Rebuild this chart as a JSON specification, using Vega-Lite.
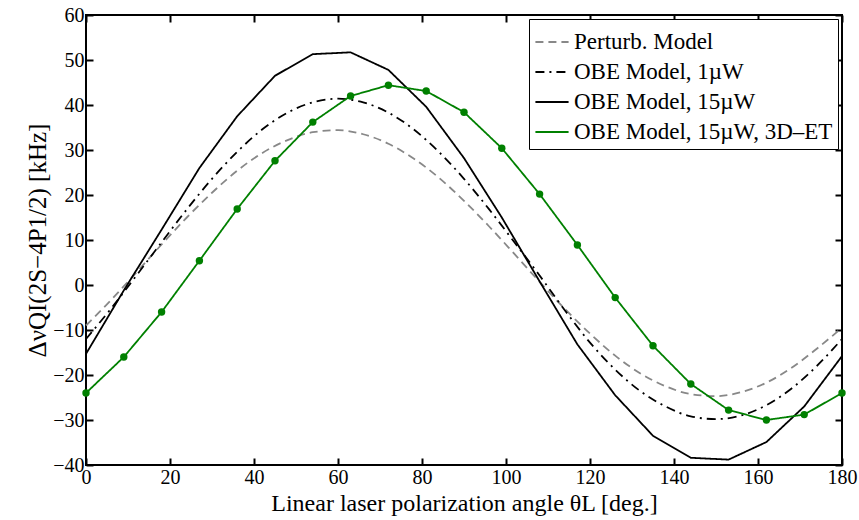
{
  "$schema": "https://vega.github.io/schema/vega-lite/v6.json",
  "width": 756,
  "height": 450,
  "autosize": {"type": "none"},
  "padding": {"left": 86, "top": 15, "right": 17, "bottom": 55},
  "background": "white",
  "config": {
    "font": "Liberation Serif",
    "view": {"stroke": "black", "strokeWidth": 2},
    "axis": {
      "labelFont": "Liberation Serif",
      "titleFont": "Liberation Serif",
      "labelFontSize": 20,
      "titleFontSize": 24,
      "titleFontWeight": "normal",
      "labelColor": "black",
      "titleColor": "black",
      "grid": false,
      "domain": false,
      "tickColor": "black",
      "tickWidth": 2,
      "tickSize": 7,
      "offset": -7
    },
    "legend": {
      "labelFont": "Liberation Serif",
      "labelFontSize": 23,
      "labelColor": "black",
      "labelLimit": 400
    }
  },
  "datasets": {
    "curves": [
      {"series": "Perturb. Model", "theta": 0, "v": -9.0},
      {"series": "Perturb. Model", "theta": 6, "v": -3.3},
      {"series": "Perturb. Model", "theta": 12, "v": 2.8},
      {"series": "Perturb. Model", "theta": 18, "v": 9.0},
      {"series": "Perturb. Model", "theta": 24, "v": 15.0},
      {"series": "Perturb. Model", "theta": 30, "v": 20.5},
      {"series": "Perturb. Model", "theta": 36, "v": 25.4},
      {"series": "Perturb. Model", "theta": 42, "v": 29.35},
      {"series": "Perturb. Model", "theta": 48, "v": 32.2},
      {"series": "Perturb. Model", "theta": 54, "v": 33.95},
      {"series": "Perturb. Model", "theta": 60, "v": 34.4},
      {"series": "Perturb. Model", "theta": 66, "v": 33.5},
      {"series": "Perturb. Model", "theta": 72, "v": 31.4},
      {"series": "Perturb. Model", "theta": 78, "v": 28.1},
      {"series": "Perturb. Model", "theta": 84, "v": 23.85},
      {"series": "Perturb. Model", "theta": 90, "v": 18.7},
      {"series": "Perturb. Model", "theta": 96, "v": 13.0},
      {"series": "Perturb. Model", "theta": 102, "v": 6.9},
      {"series": "Perturb. Model", "theta": 108, "v": 0.7},
      {"series": "Perturb. Model", "theta": 114, "v": -5.3},
      {"series": "Perturb. Model", "theta": 120, "v": -10.8},
      {"series": "Perturb. Model", "theta": 126, "v": -15.7},
      {"series": "Perturb. Model", "theta": 132, "v": -19.65},
      {"series": "Perturb. Model", "theta": 138, "v": -22.5},
      {"series": "Perturb. Model", "theta": 144, "v": -24.25},
      {"series": "Perturb. Model", "theta": 150, "v": -24.7},
      {"series": "Perturb. Model", "theta": 156, "v": -23.8},
      {"series": "Perturb. Model", "theta": 162, "v": -21.7},
      {"series": "Perturb. Model", "theta": 168, "v": -18.4},
      {"series": "Perturb. Model", "theta": 174, "v": -14.15},
      {"series": "Perturb. Model", "theta": 180, "v": -9.5},
      {"series": "OBE Model, 1µW", "theta": 0, "v": -12.0},
      {"series": "OBE Model, 1µW", "theta": 6, "v": -5.2},
      {"series": "OBE Model, 1µW", "theta": 12, "v": 2.1},
      {"series": "OBE Model, 1µW", "theta": 18, "v": 9.5},
      {"series": "OBE Model, 1µW", "theta": 24, "v": 16.8},
      {"series": "OBE Model, 1µW", "theta": 30, "v": 23.6},
      {"series": "OBE Model, 1µW", "theta": 36, "v": 29.6},
      {"series": "OBE Model, 1µW", "theta": 42, "v": 34.6},
      {"series": "OBE Model, 1µW", "theta": 48, "v": 38.3},
      {"series": "OBE Model, 1µW", "theta": 54, "v": 40.6},
      {"series": "OBE Model, 1µW", "theta": 60, "v": 41.4},
      {"series": "OBE Model, 1µW", "theta": 66, "v": 40.6},
      {"series": "OBE Model, 1µW", "theta": 72, "v": 38.3},
      {"series": "OBE Model, 1µW", "theta": 78, "v": 34.6},
      {"series": "OBE Model, 1µW", "theta": 84, "v": 29.6},
      {"series": "OBE Model, 1µW", "theta": 90, "v": 23.6},
      {"series": "OBE Model, 1µW", "theta": 96, "v": 16.8},
      {"series": "OBE Model, 1µW", "theta": 102, "v": 9.5},
      {"series": "OBE Model, 1µW", "theta": 108, "v": 2.1},
      {"series": "OBE Model, 1µW", "theta": 114, "v": -5.6},
      {"series": "OBE Model, 1µW", "theta": 120, "v": -12.8},
      {"series": "OBE Model, 1µW", "theta": 126, "v": -18.8},
      {"series": "OBE Model, 1µW", "theta": 132, "v": -23.6},
      {"series": "OBE Model, 1µW", "theta": 138, "v": -27.0},
      {"series": "OBE Model, 1µW", "theta": 144, "v": -29.2},
      {"series": "OBE Model, 1µW", "theta": 150, "v": -29.8},
      {"series": "OBE Model, 1µW", "theta": 156, "v": -29.0},
      {"series": "OBE Model, 1µW", "theta": 162, "v": -26.7},
      {"series": "OBE Model, 1µW", "theta": 168, "v": -23.0},
      {"series": "OBE Model, 1µW", "theta": 174, "v": -18.0},
      {"series": "OBE Model, 1µW", "theta": 180, "v": -12.0},
      {"series": "OBE Model, 15µW", "theta": 0, "v": -15.3},
      {"series": "OBE Model, 15µW", "theta": 9, "v": -1.2},
      {"series": "OBE Model, 15µW", "theta": 18, "v": 12.3},
      {"series": "OBE Model, 15µW", "theta": 27, "v": 26.0},
      {"series": "OBE Model, 15µW", "theta": 36, "v": 37.5},
      {"series": "OBE Model, 15µW", "theta": 45, "v": 46.5},
      {"series": "OBE Model, 15µW", "theta": 54, "v": 51.3},
      {"series": "OBE Model, 15µW", "theta": 63, "v": 51.7},
      {"series": "OBE Model, 15µW", "theta": 72, "v": 47.8},
      {"series": "OBE Model, 15µW", "theta": 81, "v": 39.6},
      {"series": "OBE Model, 15µW", "theta": 90, "v": 28.2},
      {"series": "OBE Model, 15µW", "theta": 99, "v": 15.0},
      {"series": "OBE Model, 15µW", "theta": 108, "v": 0.8},
      {"series": "OBE Model, 15µW", "theta": 117, "v": -13.2},
      {"series": "OBE Model, 15µW", "theta": 126, "v": -24.5},
      {"series": "OBE Model, 15µW", "theta": 135, "v": -33.5},
      {"series": "OBE Model, 15µW", "theta": 144, "v": -38.4},
      {"series": "OBE Model, 15µW", "theta": 153, "v": -38.8},
      {"series": "OBE Model, 15µW", "theta": 162, "v": -34.9},
      {"series": "OBE Model, 15µW", "theta": 171, "v": -27.0},
      {"series": "OBE Model, 15µW", "theta": 180, "v": -15.8},
      {"series": "OBE Model, 15µW, 3D–ET", "theta": 0, "v": -24.0},
      {"series": "OBE Model, 15µW, 3D–ET", "theta": 9, "v": -16.0},
      {"series": "OBE Model, 15µW, 3D–ET", "theta": 18, "v": -6.0},
      {"series": "OBE Model, 15µW, 3D–ET", "theta": 27, "v": 5.4},
      {"series": "OBE Model, 15µW, 3D–ET", "theta": 36, "v": 16.9},
      {"series": "OBE Model, 15µW, 3D–ET", "theta": 45, "v": 27.6},
      {"series": "OBE Model, 15µW, 3D–ET", "theta": 54, "v": 36.2},
      {"series": "OBE Model, 15µW, 3D–ET", "theta": 63, "v": 42.0},
      {"series": "OBE Model, 15µW, 3D–ET", "theta": 72, "v": 44.4},
      {"series": "OBE Model, 15µW, 3D–ET", "theta": 81, "v": 43.1},
      {"series": "OBE Model, 15µW, 3D–ET", "theta": 90, "v": 38.4},
      {"series": "OBE Model, 15µW, 3D–ET", "theta": 99, "v": 30.4},
      {"series": "OBE Model, 15µW, 3D–ET", "theta": 108, "v": 20.2},
      {"series": "OBE Model, 15µW, 3D–ET", "theta": 117, "v": 8.9},
      {"series": "OBE Model, 15µW, 3D–ET", "theta": 126, "v": -2.8},
      {"series": "OBE Model, 15µW, 3D–ET", "theta": 135, "v": -13.5},
      {"series": "OBE Model, 15µW, 3D–ET", "theta": 144, "v": -22.0},
      {"series": "OBE Model, 15µW, 3D–ET", "theta": 153, "v": -27.8},
      {"series": "OBE Model, 15µW, 3D–ET", "theta": 162, "v": -30.0},
      {"series": "OBE Model, 15µW, 3D–ET", "theta": 171, "v": -28.8},
      {"series": "OBE Model, 15µW, 3D–ET", "theta": 180, "v": -24.0}
    ]
  },
  "data": {"name": "curves"},
  "layer": [
    {
      "mark": {"type": "line", "strokeWidth": 1.8, "interpolate": "monotone"},
      "transform": [{"filter": "datum.series === 'Perturb. Model' || datum.series === 'OBE Model, 1µW'"}],
      "encoding": {
        "x": {"field": "theta", "type": "quantitative", "scale": {"domain": [0, 180], "nice": false}, "axis": {"values": [0,20,40,60,80,100,120,140,160,180], "title": "Linear laser polarization angle θL [deg.]", "labelPadding": 2, "titlePadding": 4, "labelFlush": false}},
        "y": {"field": "v", "type": "quantitative", "scale": {"domain": [-40, 60], "nice": false}, "axis": {"values": [-40,-30,-20,-10,0,10,20,30,40,50,60], "title": "ΔνQI(2S−4P1/2) [kHz]", "titleFontSize": 25, "labelPadding": 2, "titlePadding": 2}},
        "color": {"field": "series", "type": "nominal", "scale": {"domain": ["Perturb. Model", "OBE Model, 1µW", "OBE Model, 15µW", "OBE Model, 15µW, 3D–ET"], "range": ["#888888", "#000000", "#000000", "#008000"]}, "legend": {"title": null, "orient": "top-right", "offset": 4, "strokeColor": "black", "fillColor": "white", "padding": 5, "symbolType": "stroke", "symbolSize": 1100, "symbolStrokeWidth": 2, "rowPadding": -5, "labelOffset": 4}},
        "strokeDash": {"field": "series", "type": "nominal", "scale": {"domain": ["Perturb. Model", "OBE Model, 1µW", "OBE Model, 15µW", "OBE Model, 15µW, 3D–ET"], "range": [[8, 5], [9, 5, 2, 5], [1, 0], [1, 0]]}, "legend": {"title": null, "orient": "top-right", "offset": 4, "strokeColor": "black", "fillColor": "white", "padding": 5, "symbolType": "stroke", "symbolSize": 1100, "symbolStrokeWidth": 2, "rowPadding": -5, "labelOffset": 4}}
      }
    },
    {
      "mark": {"type": "line", "strokeWidth": 1.8},
      "transform": [{"filter": "datum.series === 'OBE Model, 15µW' || datum.series === 'OBE Model, 15µW, 3D–ET'"}],
      "encoding": {
        "x": {"field": "theta", "type": "quantitative", "axis": null},
        "y": {"field": "v", "type": "quantitative", "axis": null},
        "color": {"field": "series", "type": "nominal"},
        "strokeDash": {"field": "series", "type": "nominal"}
      }
    },
    {
      "mark": {"type": "point", "filled": true, "opacity": 1, "size": 55, "color": "#008000"},
      "transform": [{"filter": "datum.series === 'OBE Model, 15µW, 3D–ET'"}],
      "encoding": {
        "x": {"field": "theta", "type": "quantitative", "axis": {"orient": "top", "values": [0,20,40,60,80,100,120,140,160,180], "labels": false, "title": null}},
        "y": {"field": "v", "type": "quantitative", "axis": {"orient": "right", "values": [-40,-30,-20,-10,0,10,20,30,40,50,60], "labels": false, "title": null}}
      }
    }
  ],
  "resolve": {"axis": {"x": "independent", "y": "independent"}}
}
